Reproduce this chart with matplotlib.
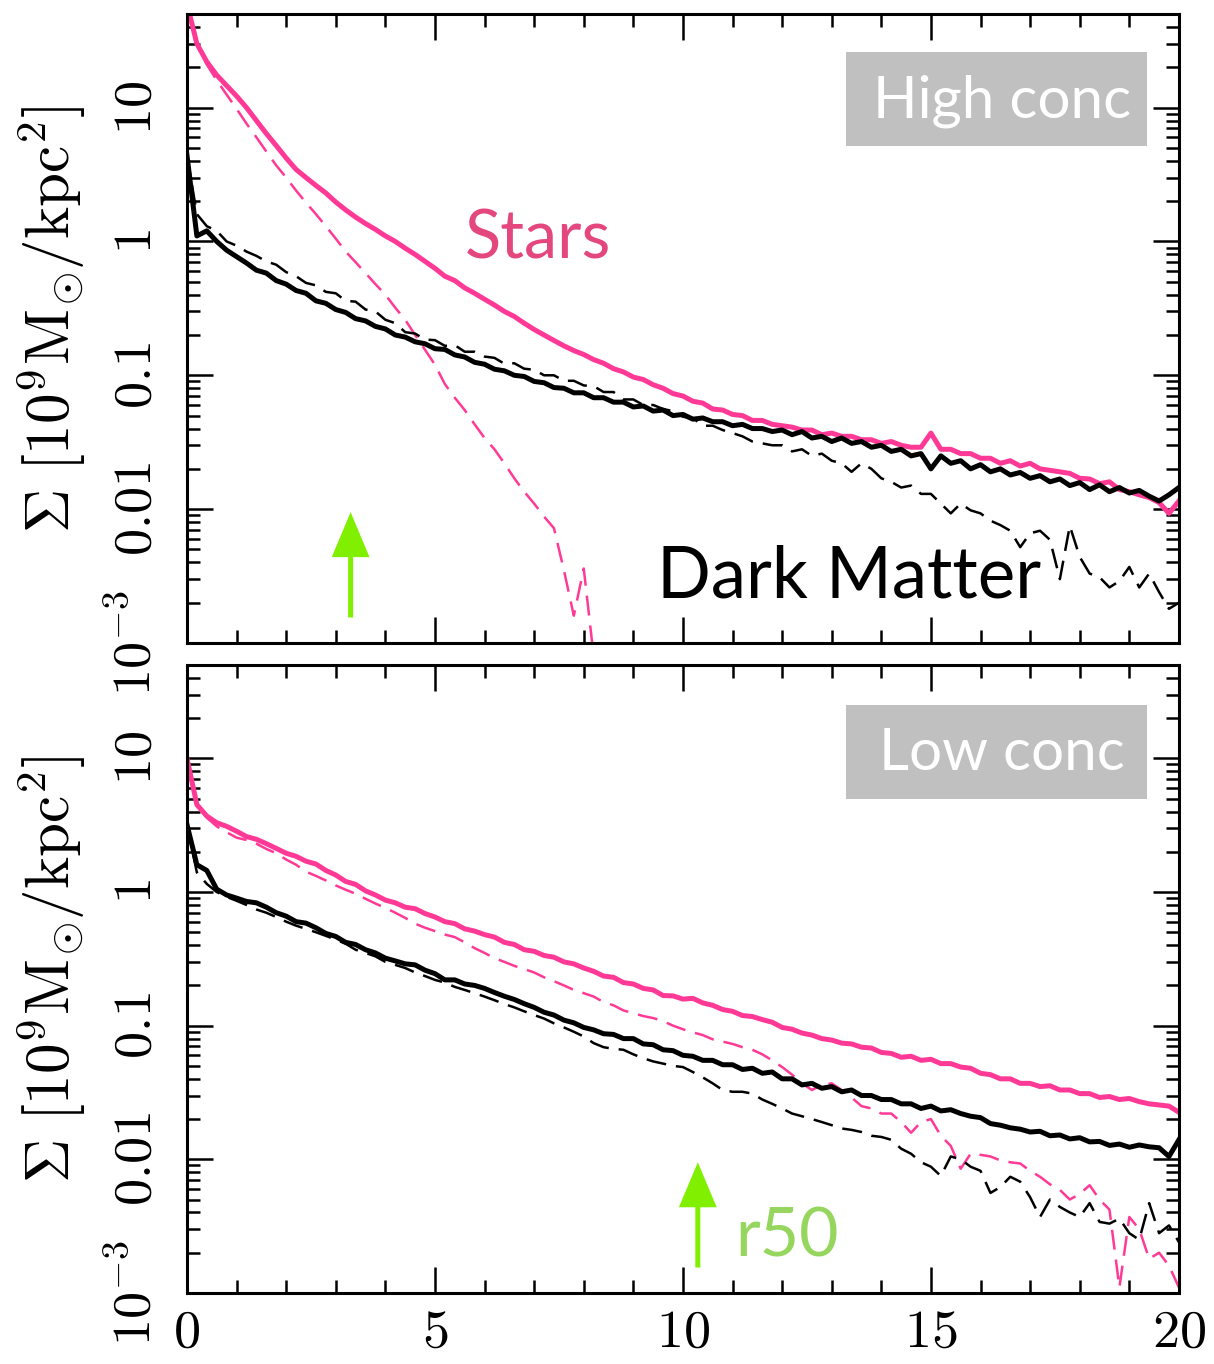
import numpy as np
import matplotlib
matplotlib.use('Agg')
import matplotlib.pyplot as plt
from matplotlib.patches import Rectangle
from matplotlib.ticker import FixedLocator, MultipleLocator, LogLocator, NullFormatter

plt.rcParams['font.family'] = 'DejaVu Serif'
plt.rcParams['mathtext.fontset'] = 'cm'

# radial bins (kpc)
r = np.linspace(0, 20, 101)

# --- high concentration panel ---
star_hi = [60, 30, 22, 17.5, 14.6, 12.2, 10.0, 8.0, 6.4, 5.2,
           4.2, 3.45, 3.0, 2.62, 2.3, 1.97, 1.72, 1.52, 1.36, 1.23,
           1.10, 1.0, 0.89, 0.80, 0.71, 0.63, 0.55, 0.51, 0.45, 0.41,
           0.37, 0.335, 0.30, 0.275, 0.245, 0.22, 0.20, 0.182, 0.166, 0.153,
           0.143, 0.131, 0.123, 0.112, 0.106, 0.097, 0.093, 0.085, 0.080, 0.073,
           0.070, 0.064, 0.062, 0.056, 0.055, 0.051, 0.050, 0.046, 0.046, 0.043,
           0.042, 0.041, 0.039, 0.039, 0.036, 0.037, 0.035, 0.035, 0.033, 0.033,
           0.031, 0.032, 0.030, 0.029, 0.029, 0.037, 0.028, 0.028, 0.026, 0.026,
           0.024, 0.024, 0.022, 0.023, 0.021, 0.022, 0.020, 0.0195, 0.019, 0.0185,
           0.017, 0.0168, 0.0155, 0.016, 0.014, 0.0135, 0.0128, 0.0122, 0.0112, 0.0093,
           0.0115]
dm_hi = [4.4, 1.1, 1.2, 1.0, 0.86, 0.77, 0.69, 0.61, 0.58, 0.51,
         0.48, 0.43, 0.41, 0.36, 0.345, 0.31, 0.295, 0.265, 0.255, 0.232,
         0.222, 0.20, 0.193, 0.178, 0.172, 0.158, 0.156, 0.142, 0.137, 0.125,
         0.121, 0.111, 0.108, 0.100, 0.098, 0.090, 0.088, 0.081, 0.080, 0.074,
         0.074, 0.068, 0.068, 0.063, 0.063, 0.058, 0.059, 0.054, 0.055, 0.050,
         0.051, 0.047, 0.048, 0.045, 0.045, 0.042, 0.043, 0.040, 0.040, 0.038,
         0.039, 0.036, 0.038, 0.034, 0.035, 0.032, 0.034, 0.031, 0.032, 0.029,
         0.030, 0.027, 0.028, 0.025, 0.026, 0.020, 0.025, 0.022, 0.023, 0.020,
         0.0215, 0.019, 0.020, 0.018, 0.0188, 0.017, 0.0178, 0.016, 0.0168, 0.015,
         0.0158, 0.014, 0.0152, 0.0135, 0.0145, 0.0132, 0.0138, 0.0125, 0.0115, 0.0128,
         0.0145]
star_hi_dash = [60, 30, 21, 16, 12.5, 9.8, 7.6, 6.0, 4.7, 3.7,
                3.0, 2.4, 1.95, 1.6, 1.3, 1.05, 0.84, 0.70, 0.58, 0.48,
                0.40, 0.32, 0.26, 0.20, 0.155, 0.12, 0.086, 0.068, 0.055, 0.043,
                0.034, 0.028, 0.022, 0.017, 0.0135, 0.011, 0.0088, 0.0072, 0.0035, 0.0016,
                0.0036, 0.0008]
dm_hi_dash = [4.4, 1.6, 1.3, 1.2, 1.0, 0.93, 0.84, 0.78, 0.71, 0.67,
              0.59, 0.55, 0.49, 0.47, 0.42, 0.41, 0.36, 0.355, 0.31, 0.30,
              0.26, 0.245, 0.21, 0.205, 0.185, 0.183, 0.166, 0.168, 0.150, 0.150,
              0.138, 0.135, 0.122, 0.123, 0.112, 0.110, 0.100, 0.100, 0.091, 0.091,
              0.084, 0.083, 0.075, 0.075, 0.066, 0.066, 0.060, 0.060, 0.056, 0.054,
              0.049, 0.048, 0.042, 0.042, 0.039, 0.037, 0.035, 0.032, 0.031, 0.030,
              0.030, 0.027, 0.028, 0.025, 0.026, 0.023, 0.022, 0.019, 0.022, 0.020,
              0.017, 0.016, 0.0145, 0.015, 0.013, 0.013, 0.011, 0.0093, 0.011, 0.0098,
              0.0093, 0.0082, 0.0076, 0.0069, 0.0052, 0.0066, 0.0069, 0.0059, 0.0030, 0.0075,
              0.0044, 0.0033, 0.0031, 0.0026, 0.0029, 0.0037, 0.0026, 0.0033, 0.0024, 0.0018,
              0.0020]

# --- low concentration panel ---
star_lo = [10, 4.5, 3.7, 3.3, 3.1, 2.85, 2.6, 2.48, 2.3, 2.12,
           1.95, 1.85, 1.70, 1.62, 1.45, 1.34, 1.20, 1.14, 1.02, 0.95,
           0.87, 0.83, 0.77, 0.75, 0.69, 0.65, 0.60, 0.58, 0.53, 0.51,
           0.48, 0.46, 0.42, 0.405, 0.37, 0.36, 0.335, 0.325, 0.30, 0.29,
           0.27, 0.255, 0.235, 0.23, 0.21, 0.205, 0.19, 0.185, 0.168, 0.167,
           0.158, 0.16, 0.148, 0.142, 0.132, 0.128, 0.119, 0.117, 0.111, 0.106,
           0.097, 0.094, 0.088, 0.085, 0.080, 0.078, 0.074, 0.073, 0.069, 0.068,
           0.063, 0.062, 0.058, 0.059, 0.055, 0.056, 0.052, 0.052, 0.049, 0.048,
           0.044, 0.043, 0.040, 0.040, 0.037, 0.037, 0.035, 0.0355, 0.033, 0.033,
           0.031, 0.031, 0.029, 0.0295, 0.028, 0.0285, 0.027, 0.026, 0.0255, 0.025,
           0.0225]
dm_lo = [3.2, 1.6, 1.45, 1.05, 0.95, 0.90, 0.85, 0.83, 0.77, 0.70,
         0.66, 0.60, 0.585, 0.54, 0.49, 0.465, 0.42, 0.405, 0.37, 0.35,
         0.32, 0.305, 0.29, 0.285, 0.26, 0.245, 0.22, 0.22, 0.205, 0.20,
         0.19, 0.177, 0.166, 0.157, 0.146, 0.137, 0.126, 0.12, 0.11, 0.105,
         0.097, 0.093, 0.087, 0.086, 0.080, 0.080, 0.073, 0.072, 0.066, 0.065,
         0.060, 0.059, 0.055, 0.055, 0.051, 0.051, 0.047, 0.048, 0.044, 0.045,
         0.040, 0.040, 0.036, 0.037, 0.034, 0.035, 0.032, 0.033, 0.030, 0.030,
         0.028, 0.028, 0.026, 0.026, 0.024, 0.025, 0.023, 0.0235, 0.022, 0.021,
         0.0205, 0.0185, 0.018, 0.0172, 0.0168, 0.016, 0.0162, 0.015, 0.0152, 0.0142,
         0.0145, 0.0135, 0.0136, 0.0127, 0.013, 0.0123, 0.0128, 0.0124, 0.0122, 0.0105,
         0.014]
star_lo_dash = [10, 4.5, 3.6, 3.1, 2.8, 2.55, 2.45, 2.3, 2.1, 1.95,
                1.75, 1.6, 1.42, 1.32, 1.22, 1.12, 1.04, 0.97, 0.89, 0.82,
                0.76, 0.70, 0.64, 0.58, 0.54, 0.51, 0.48, 0.46, 0.42, 0.38,
                0.35, 0.32, 0.30, 0.28, 0.265, 0.25, 0.23, 0.215, 0.20, 0.185,
                0.175, 0.165, 0.150, 0.142, 0.130, 0.124, 0.118, 0.114, 0.108, 0.100,
                0.094, 0.089, 0.085, 0.079, 0.076, 0.073, 0.069, 0.066, 0.061, 0.055,
                0.049, 0.043, 0.037, 0.033, 0.036, 0.037, 0.033, 0.029, 0.025, 0.024,
                0.022, 0.022, 0.019, 0.0158, 0.019, 0.020, 0.015, 0.0126, 0.0085, 0.011,
                0.0108, 0.0105, 0.0098, 0.0095, 0.0093, 0.0082, 0.0074, 0.0065, 0.0059, 0.0050,
                0.0055, 0.0064, 0.0050, 0.0042, 0.0011, 0.0037, 0.0030, 0.0018, 0.0020, 0.0016,
                0.0011]
dm_lo_dash = [3.2, 1.4, 1.15, 1.0, 0.92, 0.86, 0.80, 0.74, 0.70, 0.65,
              0.60, 0.56, 0.53, 0.50, 0.47, 0.44, 0.41, 0.37, 0.35, 0.33,
              0.30, 0.285, 0.27, 0.25, 0.235, 0.22, 0.21, 0.195, 0.185, 0.175,
              0.165, 0.155, 0.145, 0.137, 0.128, 0.12, 0.113, 0.104, 0.097, 0.090,
              0.083, 0.074, 0.069, 0.067, 0.066, 0.061, 0.057, 0.054, 0.052, 0.050,
              0.049, 0.045, 0.041, 0.037, 0.033, 0.032, 0.032, 0.031, 0.028, 0.026,
              0.024, 0.022, 0.021, 0.020, 0.019, 0.018, 0.017, 0.0166, 0.016, 0.015,
              0.0147, 0.014, 0.012, 0.011, 0.0095, 0.0088, 0.0075, 0.0105, 0.010, 0.0088,
              0.0082, 0.0056, 0.0062, 0.0074, 0.0068, 0.0052, 0.0037, 0.0050, 0.0044, 0.0040,
              0.0037, 0.0047, 0.0034, 0.0033, 0.0036, 0.0028, 0.0025, 0.0047, 0.0028, 0.0032,
              0.0024]

r50_hi = 3.3
r50_lo = 10.3
xtick_vals = [0, 5, 10, 15, 20]
xtick_labels = [r'$0$', r'$5$', r'$10$', r'$15$', r'$20$']
ytick_vals = [1e-3, 1e-2, 0.1, 1, 10]
ytick_labels = [r'$10^{-3}$', r'$0.01$', r'$0.1$', r'$1$', r'$10$']

PINK = '#ff3a96'
GREEN = '#80f000'
SANS = 'Lato'

fig = plt.figure(figsize=(12.14, 13.64), dpi=100)
ax1 = fig.add_axes([0.154, 0.5286, 0.8171, 0.4611])
ax2 = fig.add_axes([0.154, 0.0521, 0.8171, 0.4604])


def style(ax, show_x, label_y):
    ax.set_xlim(0, 20)
    ax.set_yscale('log')
    ax.set_ylim(1e-3, 50)
    ax.set_xticks(xtick_vals)
    ax.set_xticklabels(xtick_labels)
    ax.xaxis.set_minor_locator(MultipleLocator(1))
    ax.yaxis.set_major_locator(FixedLocator(ytick_vals))
    ax.yaxis.set_minor_locator(LogLocator(base=10, subs=np.arange(2, 10)))
    ax.yaxis.set_minor_formatter(NullFormatter())
    ax.set_yticklabels(ytick_labels, rotation=90, va='center', ha='right')
    ax.tick_params(which='both', direction='in', top=True, right=True,
                   width=1.8, labelsize=39)
    ax.tick_params(which='major', length=18.7)
    ax.tick_params(which='minor', length=9.5)
    ax.tick_params(axis='y', pad=18)
    ax.tick_params(axis='x', pad=9)
    if not show_x:
        ax.tick_params(axis='x', labelbottom=False)
    for s in ax.spines.values():
        s.set_linewidth(2.2)
    ax.set_ylabel(r'$\Sigma\ [10^9\mathrm{M}_{\!\odot}\!/\mathrm{kpc}^2]$', fontsize=44)
    ax.yaxis.set_label_coords(-0.10, label_y)


def profiles(ax, star, dm, star_d, dm_d):
    ax.plot(r[:len(star_d)], star_d, color=PINK, lw=1.8, dashes=(8, 4))
    ax.plot(r[:len(dm_d)], dm_d, color='black', lw=1.8, dashes=(8, 4))
    ax.plot(r, star, color=PINK, lw=3.6, solid_joinstyle='round')
    ax.plot(r, dm, color='black', lw=3.6, solid_joinstyle='round')


def tag(ax, text, ycen):
    ax.add_patch(Rectangle((0.664, ycen - 0.075), 0.304, 0.150, transform=ax.transAxes,
                           facecolor='#c0c0c0', edgecolor='none', zorder=3))
    ax.text(0.822, ycen - 0.003, text, transform=ax.transAxes, ha='center', va='center',
            color='white', fontsize=42, family=SANS, zorder=4)


def arrow(ax, x):
    ax.annotate('', xy=(x, 0.0095), xytext=(x, 0.00155),
                arrowprops=dict(arrowstyle='simple,head_length=0.81,head_width=0.68,tail_width=0.09',
                                mutation_scale=40, facecolor=GREEN, edgecolor='none',
                                lw=0, shrinkA=0, shrinkB=0))


profiles(ax1, star_hi, dm_hi, star_hi_dash, dm_hi_dash)
profiles(ax2, star_lo, dm_lo, star_lo_dash, dm_lo_dash)
style(ax1, False, 0.515)
style(ax2, True, 0.515)
tag(ax1, 'High conc', 0.865)
tag(ax2, 'Low conc', 0.862)
arrow(ax1, r50_hi)
arrow(ax2, r50_lo)

ax1.text(5.6, 0.75, 'Stars', color='#e4477e', fontsize=48, family=SANS,
         ha='left', va='baseline')
ax1.text(9.48, 0.0022, 'Dark Matter', color='black', fontsize=51, family=SANS,
         ha='left', va='baseline')
ax2.text(11.05, 0.00186, 'r50', color='#96d65e', fontsize=49, family=SANS,
         ha='left', va='baseline')

fig.savefig('out.png', dpi=100)
